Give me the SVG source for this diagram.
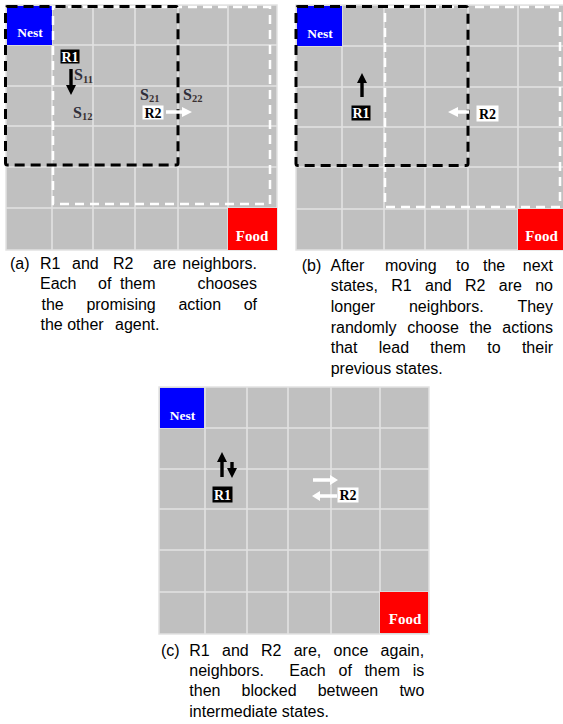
<svg xmlns="http://www.w3.org/2000/svg" width="563" height="724" viewBox="0 0 563 724">
<style>
.cell{fill:#c0c0c0;stroke:#e2e2e2;stroke-width:1.5}
.gl{fill:none;stroke:#e2e2e2;stroke-width:1.6}
.nest{fill:#0000ff}
.food{fill:#ff0000}
.lbl{font-family:"Liberation Serif","Times New Roman",serif;font-weight:bold;fill:#fff;text-anchor:middle}
.rb{fill:#000}
.rw{fill:#fff}
.rt{font-family:"Liberation Serif","Times New Roman",serif;font-weight:bold;font-size:14px;text-anchor:middle}
.s{font-family:"Liberation Serif","Times New Roman",serif;font-weight:bold;font-size:16px;fill:#2e2e3a}
.sub{font-family:"Liberation Serif","Times New Roman",serif;font-weight:bold;font-size:10.5px;fill:#3a3030}
.bd{fill:none;stroke:#000;stroke-width:3;stroke-dasharray:10 6}
.wd{fill:none;stroke:#fff;stroke-width:2.5;stroke-dasharray:9 6}
.ab{fill:#000}
.aw{fill:#fff}
.cap{font-family:"Liberation Sans",Arial,sans-serif;font-size:16px;fill:#000}
</style>
<rect width="563" height="724" fill="#fff"/>

<!-- Panel (a) -->
<g id="grid-a">
<rect class="cell" x="6" y="5" width="271" height="245"/>
<path class="gl" d="M52,5V250M93,5V250M135,5V250M178,5V250M228,5V250M6,45H277M6,86H277M6,126H277M6,167H277M6,208H277"/>
</g>
<g id="nest-a"><rect class="nest" x="7" y="6" width="45" height="39"/><text class="lbl" x="30" y="37" font-size="13.5">Nest</text></g>
<g id="food-a"><rect class="food" x="228" y="208" width="49" height="42"/><text class="lbl" x="252" y="241" font-size="15">Food</text></g>
<g id="regions-a">
<rect class="wd" x="53" y="7" width="217" height="197"/>
<rect class="bd" x="5.5" y="6.5" width="172.5" height="158.5" rx="2"/>
</g>
<g id="states-a">
<text class="s" x="74" y="80">S</text><text class="sub" x="83" y="83">11</text>
<text class="s" x="73" y="118">S</text><text class="sub" x="82" y="120">12</text>
<text class="s" x="140" y="100">S</text><text class="sub" x="149" y="102">21</text>
<text class="s" x="183" y="100">S</text><text class="sub" x="192" y="102">22</text>
</g>
<g id="r1-a"><rect class="rb" x="60.5" y="49.5" width="19" height="14"/><text class="rt" x="70" y="61.5" fill="#fff">R1</text></g>
<g id="r2-a"><rect class="rw" x="142.5" y="105.5" width="21" height="14"/><text class="rt" x="153" y="117.5" fill="#000">R2</text></g>

<!-- Panel (b) -->
<g id="grid-b">
<rect class="cell" x="296" y="5" width="270" height="245"/>
<path class="gl" d="M342,5V250M384,5V250M425,5V250M468,5V250M518,5V250M296,46H566M296,87H566M296,127H566M296,167H566M296,209H566"/>
</g>
<g id="nest-b"><rect class="nest" x="297" y="6" width="45" height="40"/><text class="lbl" x="320" y="38" font-size="13.5">Nest</text></g>
<g id="food-b"><rect class="food" x="518" y="209" width="46" height="41"/><text class="lbl" x="541.5" y="241" font-size="15">Food</text></g>
<g id="regions-b">
<rect class="wd" x="385" y="7" width="175" height="200"/>
<rect class="bd" x="296" y="6.5" width="172" height="159" rx="2"/>
</g>
<g id="r1-b"><rect class="rb" x="351.5" y="105.5" width="19" height="15"/><text class="rt" x="361" y="118" fill="#fff">R1</text></g>
<g id="r2-b"><rect class="rw" x="476.5" y="105.5" width="22" height="16"/><text class="rt" x="487.5" y="118.5" fill="#000">R2</text></g>

<!-- Panel (c) -->
<g id="grid-c">
<rect class="cell" x="159" y="387" width="270" height="247"/>
<path class="gl" d="M205,387V634M247,387V634M288,387V634M331,387V634M380,387V634M159,428H429M159,469H429M159,509H429M159,550H429M159,592H429"/>
</g>
<g id="nest-c"><rect class="nest" x="160" y="388" width="44" height="40"/><text class="lbl" x="182.5" y="420" font-size="13.5">Nest</text></g>
<g id="food-c"><rect class="food" x="380" y="592" width="48" height="41"/><text class="lbl" x="405" y="624" font-size="15">Food</text></g>
<g id="r1-c"><rect class="rb" x="212.5" y="486.5" width="20" height="16"/><text class="rt" x="222.5" y="499.5" fill="#fff">R1</text></g>
<g id="r2-c"><rect class="rw" x="337.5" y="487.5" width="21" height="15"/><text class="rt" x="348" y="500" fill="#000">R2</text></g>

<!-- action arrows -->
<g id="connectors">
<path class="ab" d="M69.3,69V85H66L71,95L76,85H72.7V69Z"/>
<path class="aw" d="M166,110.3H182V107L192,112L182,117V113.7H166Z"/>
<path class="ab" d="M360.3,97V83H357L362,73L367,83H363.7V97Z"/>
<path class="aw" d="M469,110.3H458V107L448,112L458,117V113.7H469Z"/>
<path class="ab" d="M220.3,477V462H217L222,452L227,462H223.7V477Z"/>
<path class="ab" d="M230.3,462V468H227L232,478L237,468H233.7V462Z"/>
<path class="aw" d="M313,478.3H330V475L338,480L330,485V481.7H313Z"/>
<path class="aw" d="M337,494.3H320V491L312,496L320,501V497.7H337Z"/>
</g>

<!-- captions -->
<g id="caption-a">
<text class="cap" y="269"><tspan x="10">(a)</tspan><tspan x="40">R1</tspan><tspan x="72">and</tspan><tspan x="113">R2</tspan><tspan x="153">are</tspan><tspan x="182.3">neighbors.</tspan></text>
<text class="cap" y="289"><tspan x="40">Each</tspan><tspan x="98">of</tspan><tspan x="120">them</tspan><tspan x="197.4">chooses</tspan></text>
<text class="cap" y="309.5"><tspan x="41.5">the</tspan><tspan x="86.4">promising</tspan><tspan x="178.4">action</tspan><tspan x="243.7">of</tspan></text>
<text class="cap" y="329.5"><tspan x="40.5">the other</tspan><tspan x="115">agent.</tspan></text>
</g>
<g id="caption-b">
<text class="cap" y="270.7"><tspan x="301.7">(b)</tspan><tspan x="330.5">After</tspan><tspan x="385">moving</tspan><tspan x="456">to</tspan><tspan x="483">the</tspan><tspan x="522.8">next</tspan></text>
<text class="cap" y="291.3"><tspan x="330.7">states,</tspan><tspan x="391.2">R1</tspan><tspan x="425">and</tspan><tspan x="465">R2</tspan><tspan x="498.8">are</tspan><tspan x="535.2">no</tspan></text>
<text class="cap" y="312"><tspan x="330.7">longer</tspan><tspan x="408.9">neighbors.</tspan><tspan x="517.4">They</tspan></text>
<text class="cap" y="332.6"><tspan x="330.7">randomly</tspan><tspan x="407.2">choose</tspan><tspan x="469.5">the</tspan><tspan x="502.3">actions</tspan></text>
<text class="cap" y="353.2"><tspan x="330.7">that</tspan><tspan x="378.8">lead</tspan><tspan x="430.3">them</tspan><tspan x="487.3">to</tspan><tspan x="521.9">their</tspan></text>
<text class="cap" y="373.8"><tspan x="330.7">previous states.</tspan></text>
</g>
<g id="caption-c">
<text class="cap" y="655.7"><tspan x="161">(c)</tspan><tspan x="189.3">R1</tspan><tspan x="222">and</tspan><tspan x="261">R2</tspan><tspan x="293.7">are,</tspan><tspan x="333.6">once</tspan><tspan x="380.6">again,</tspan></text>
<text class="cap" y="676"><tspan x="189.3">neighbors.</tspan><tspan x="289.3">Each</tspan><tspan x="338.5">of</tspan><tspan x="364.4">them</tspan><tspan x="412.7">is</tspan></text>
<text class="cap" y="696.3"><tspan x="189.3">then</tspan><tspan x="241.5">blocked</tspan><tspan x="317.7">between</tspan><tspan x="399.4">two</tspan></text>
<text class="cap" y="716.7"><tspan x="189.3">intermediate states.</tspan></text>
</g>
</svg>
